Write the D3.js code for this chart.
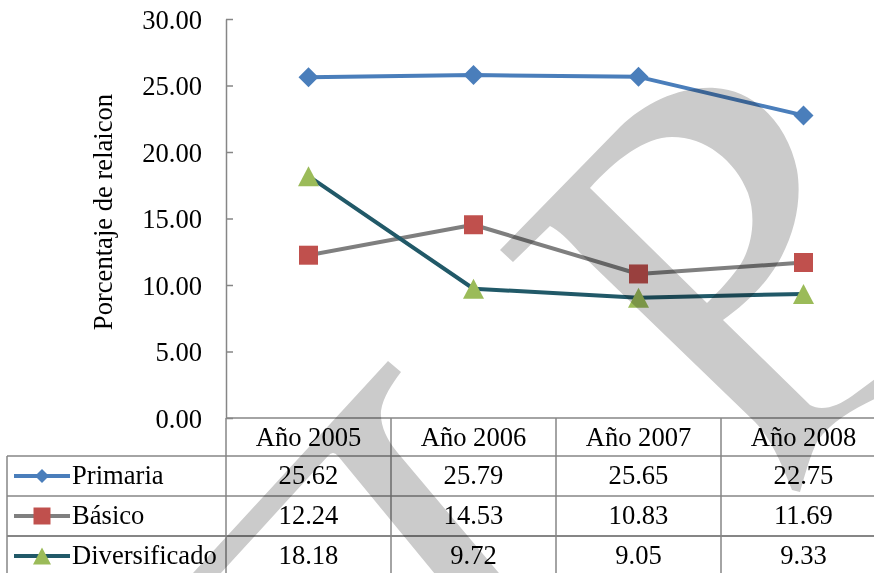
<!DOCTYPE html>
<html>
<head>
<meta charset="utf-8">
<script src="https://cdn.jsdelivr.net/npm/d3@7"></script>
<style>
  html, body { margin: 0; padding: 0; background: #fff; }
  svg { display: block; }
  text { font-family: 'Liberation Serif', 'Times New Roman', serif; fill: #000; }
</style>
</head>
<body>
<svg id="chart" width="874" height="573"></svg>
<script>
// ---- data ----
const categories = ["Año 2005", "Año 2006", "Año 2007", "Año 2008"];
const primaria = [25.62, 25.79, 25.65, 22.75];
const basico = [12.24, 14.53, 10.83, 11.69];
const diversificado = [18.18, 9.72, 9.05, 9.33];
const seriesNames = ["Primaria", "Básico", "Diversificado"];
const yTicks = [0, 5, 10, 15, 20, 25, 30];
const yTitle = "Porcentaje de relaicon";

// ---- styles ----
const styles = [
  { line: "#4a7ebb", marker: "#4a7ebb", shape: "diamond" },
  { line: "#7f7f7f", marker: "#c0504d", shape: "square" },
  { line: "#215968", marker: "#9bbb59", shape: "triangle" }
];
const seriesValues = [primaria, basico, diversificado];
const series = seriesNames.map((n, i) => ({ name: n, values: seriesValues[i], style: styles[i] }));

const svg = d3.select("#chart");
const FS = 26.6;
const gridColor = "#868686";

const plotLeft = 226, plotRight = 886, plotTop = 19, plotBottom = 418;
const x = d3.scaleBand().domain(categories).range([plotLeft, plotRight]);
const y = d3.scaleLinear().domain([0, 30]).range([plotBottom, plotTop]);

// table rows
const rowTops = [456, 496, 536];
const rowH = 40;
const tableLeft = 7;

// ---- y axis ----
const yAxis = d3.axisLeft(y)
  .tickValues(yTicks)
  .tickFormat(d3.format(".2f"))
  .tickSize(-7)
  .tickSizeOuter(0)
  .tickPadding(24);
const gy = svg.append("g").attr("transform", `translate(${plotLeft},0)`).call(yAxis);
gy.select(".domain").attr("stroke", gridColor).attr("stroke-width", 1.5);
gy.selectAll(".tick line").attr("stroke", gridColor).attr("stroke-width", 1.5);
gy.selectAll(".tick text")
  .style("font-family", "'Liberation Serif', 'Times New Roman', serif")
  .style("font-size", FS + "px")
  .attr("fill", "#000")
  .attr("dy", "0.34em");

svg.append("text")
  .attr("transform", `translate(112, 212) rotate(-90)`)
  .attr("text-anchor", "middle")
  .style("font-size", FS + "px")
  .text(yTitle);

// ---- table grid ----
const grid = svg.append("g").attr("stroke", gridColor).attr("stroke-width", 1.5).attr("fill", "none");
grid.append("line").attr("x1", plotLeft).attr("x2", 874).attr("y1", plotBottom).attr("y2", plotBottom);
rowTops.forEach((t, i) => {
  grid.append("line").attr("x1", tableLeft).attr("x2", 874).attr("y1", t).attr("y2", t)
    .attr("stroke-width", i === 2 ? 2.2 : 1.5);
});
grid.append("line").attr("x1", tableLeft).attr("x2", tableLeft).attr("y1", rowTops[0]).attr("y2", 573);
grid.append("line").attr("x1", plotLeft).attr("x2", plotLeft).attr("y1", plotBottom).attr("y2", 573);
categories.forEach(c => {
  const xr = x(c) + x.bandwidth();
  grid.append("line").attr("x1", xr).attr("x2", xr).attr("y1", plotBottom).attr("y2", 573);
});

// header labels
svg.append("g").selectAll("text").data(categories).join("text")
  .attr("x", d => x(d) + x.bandwidth() / 2)
  .attr("y", 446)
  .attr("text-anchor", "middle")
  .style("font-size", FS + "px")
  .text(d => d);

// value cells
series.forEach((s, i) => {
  svg.append("g").selectAll("text").data(s.values).join("text")
    .attr("x", (d, j) => x(categories[j]) + x.bandwidth() / 2)
    .attr("y", rowTops[i] + rowH / 2 + 8)
    .attr("text-anchor", "middle")
    .style("font-size", FS + "px")
    .text(d => d3.format(".2f")(d));
});

// ---- markers ----
function markerPath(shape, big) {
  if (shape === "diamond") {
    const h = big ? 10 : 7;
    return `M0,${-h}L${h},0L0,${h}L${-h},0Z`;
  }
  if (shape === "square") {
    const h = big ? 9.5 : 8.5;
    return `M${-h},${-h}H${h}V${h}H${-h}Z`;
  }
  const w = big ? 10.5 : 9, hh = big ? 10 : 8.5;
  return `M0,${-hh}L${w},${hh}L${-w},${hh}Z`;
}

// ---- lines ----
const lineGen = d3.line()
  .x((d, j) => x(categories[j]) + x.bandwidth() / 2)
  .y(d => y(d));

series.forEach(s => {
  svg.append("path")
    .datum(s.values)
    .attr("d", lineGen)
    .attr("fill", "none")
    .attr("stroke", s.style.line)
    .attr("stroke-width", 4)
    .attr("stroke-linejoin", "round");
});
series.forEach(s => {
  svg.append("g").selectAll("path").data(s.values).join("path")
    .attr("transform", (d, j) => `translate(${x(categories[j]) + x.bandwidth() / 2},${y(d)})`)
    .attr("d", markerPath(s.style.shape, true))
    .attr("fill", s.style.marker);
});

// ---- legend inside table ----
series.forEach((s, i) => {
  const cy = rowTops[i] + rowH / 2;
  const g = svg.append("g");
  g.append("line").attr("x1", 14).attr("x2", 70).attr("y1", cy).attr("y2", cy)
    .attr("stroke", s.style.line).attr("stroke-width", 4);
  g.append("path").attr("transform", `translate(42,${cy})`)
    .attr("d", markerPath(s.style.shape, false))
    .attr("fill", s.style.marker);
  g.append("text").attr("x", 72).attr("y", cy + 8)
    .style("font-size", FS + "px")
    .text(s.name);
});

// ---- decorative watermark (source document artefact) ----
const wm = svg.append("g").style("mix-blend-mode", "multiply").attr("fill", "#cbcbcb");
wm.append("path")
  .attr("fill-rule", "evenodd")
  .attr("d",
    "M500,250 L620,127 C645,103 680,86 715,88 C755,90 788,125 797,170 C803,205 792,245 770,275 " +
    "C758,292 740,308 723,320 L810,405 C822,412 838,406 852,396 L890,368 L890,392 " +
    "C860,405 835,418 818,440 C810,455 805,475 800,492 L792,490 C782,465 772,440 755,422 " +
    "L580,253 Q562,232 550,226 L513,262 Z " +
    "M590,188 C615,160 645,137 672,137 C705,137 735,160 748,193 C758,222 750,255 735,272 " +
    "C725,285 715,295 707,303 Z");
wm.append("path")
  .attr("d",
    "M388,361 L401,372 C392,384 383,397 381,411 C380,426 387,440 397,452 L509,585 L444,585 " +
    "L338,456 Q333,450 328,456 L210,585 L182,585 Z");
</script>
</body>
</html>
